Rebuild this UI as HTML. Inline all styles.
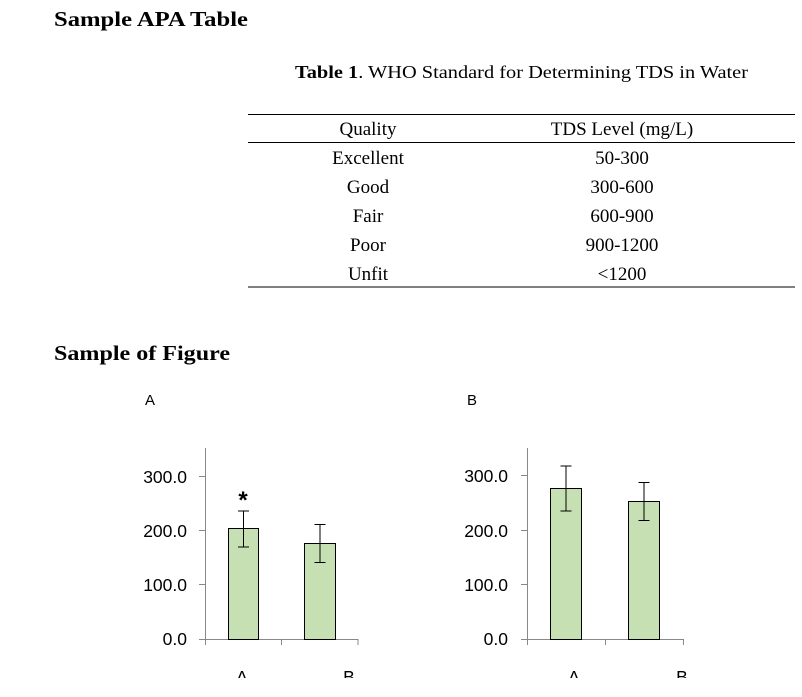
<!DOCTYPE html>
<html><head><meta charset="utf-8"><style>
html,body{margin:0;padding:0;background:#fff;}
svg{display:block}
.t{font-family:"Liberation Serif",serif;fill:#000}
.s{font-family:"Liberation Sans",sans-serif;fill:#000}
</style></head><body>
<svg width="802" height="697" viewBox="0 0 802 697" xmlns="http://www.w3.org/2000/svg">
<rect width="802" height="697" fill="#fff"/>
<text class="t" x="54" y="26" font-size="21" font-weight="bold" textLength="194" lengthAdjust="spacingAndGlyphs">Sample APA Table</text>
<text class="t" x="295" y="78" font-size="18" textLength="453" lengthAdjust="spacingAndGlyphs"><tspan font-weight="bold">Table 1</tspan>. WHO Standard for Determining TDS in Water</text>
<line x1="248" y1="114.5" x2="795" y2="114.5" stroke="#000" stroke-width="1"/>
<line x1="248" y1="142.5" x2="795" y2="142.5" stroke="#000" stroke-width="1"/>
<line x1="248" y1="287" x2="795" y2="287" stroke="#000" stroke-width="1"/>
<g class="t" font-size="19" text-anchor="middle">
<text x="368" y="135">Quality</text><text x="622" y="135">TDS Level (mg/L)</text>
<text x="368" y="164">Excellent</text><text x="622" y="164">50-300</text>
<text x="368" y="193">Good</text><text x="622" y="193">300-600</text>
<text x="368" y="222">Fair</text><text x="622" y="222">600-900</text>
<text x="368" y="251">Poor</text><text x="622" y="251">900-1200</text>
<text x="368" y="280">Unfit</text><text x="622" y="280">&lt;1200</text>
</g>
<text class="t" x="54" y="360" font-size="21" font-weight="bold" textLength="176" lengthAdjust="spacingAndGlyphs">Sample of Figure</text>
<defs><clipPath id="c"><rect x="0" y="0" width="802" height="678"/></clipPath></defs>
<g clip-path="url(#c)">
<text class="s" x="145" y="405" font-size="15">A</text>
<g stroke="#888" stroke-width="1">
<line x1="205.5" y1="448" x2="205.5" y2="639"/>
<line x1="199" y1="476.5" x2="205.5" y2="476.5"/>
<line x1="199" y1="530.5" x2="205.5" y2="530.5"/>
<line x1="199" y1="584.5" x2="205.5" y2="584.5"/>
<line x1="199" y1="639.5" x2="358" y2="639.5"/>
<line x1="205.5" y1="639" x2="205.5" y2="645"/>
<line x1="281.5" y1="639" x2="281.5" y2="645"/>
<line x1="358" y1="639" x2="358" y2="645"/>
</g>
<g class="s" font-size="17.5" text-anchor="end">
<text x="187" y="483">300.0</text><text x="187" y="537">200.0</text>
<text x="187" y="591">100.0</text><text x="187" y="645">0.0</text>
</g>
<rect x="228.5" y="528.5" width="30" height="111" fill="#c6e0b4" stroke="#000"/>
<rect x="304.5" y="543.5" width="31" height="96" fill="#c6e0b4" stroke="#000"/>
<g stroke="#000" stroke-width="1">
<line x1="243.5" y1="511" x2="243.5" y2="547"/><line x1="238" y1="511" x2="249" y2="511"/><line x1="238" y1="547" x2="249" y2="547"/>
<line x1="320" y1="524.5" x2="320" y2="562.5"/><line x1="314.5" y1="524.5" x2="325.5" y2="524.5"/><line x1="314.5" y1="562.5" x2="325.5" y2="562.5"/>
</g>
<text class="s" x="243" y="508" font-size="24" font-weight="bold" text-anchor="middle">*</text>
<text class="s" x="242" y="683" font-size="17.5" text-anchor="middle">A</text>
<text class="s" x="349" y="683" font-size="17.5" text-anchor="middle">B</text>
<text class="s" x="467" y="405" font-size="15">B</text>
<g stroke="#888" stroke-width="1">
<line x1="527.5" y1="448" x2="527.5" y2="639"/>
<line x1="521" y1="475.5" x2="527.5" y2="475.5"/>
<line x1="521" y1="530.5" x2="527.5" y2="530.5"/>
<line x1="521" y1="584.5" x2="527.5" y2="584.5"/>
<line x1="521" y1="639.5" x2="683.5" y2="639.5"/>
<line x1="527.5" y1="639" x2="527.5" y2="645"/>
<line x1="605.5" y1="639" x2="605.5" y2="645"/>
<line x1="683.5" y1="639" x2="683.5" y2="645"/>
</g>
<g class="s" font-size="17.5" text-anchor="end">
<text x="508" y="482">300.0</text><text x="508" y="537">200.0</text>
<text x="508" y="591">100.0</text><text x="508" y="645">0.0</text>
</g>
<rect x="550.5" y="488.5" width="31" height="151" fill="#c6e0b4" stroke="#000"/>
<rect x="628.5" y="501.5" width="31" height="138" fill="#c6e0b4" stroke="#000"/>
<g stroke="#000" stroke-width="1">
<line x1="566" y1="466" x2="566" y2="511"/><line x1="560.5" y1="466" x2="571.5" y2="466"/><line x1="560.5" y1="511" x2="571.5" y2="511"/>
<line x1="644" y1="482.5" x2="644" y2="520.5"/><line x1="638.5" y1="482.5" x2="649.5" y2="482.5"/><line x1="638.5" y1="520.5" x2="649.5" y2="520.5"/>
</g>
<text class="s" x="574" y="683" font-size="17.5" text-anchor="middle">A</text>
<text class="s" x="682" y="683" font-size="17.5" text-anchor="middle">B</text>
</g>
</svg>
</body></html>
